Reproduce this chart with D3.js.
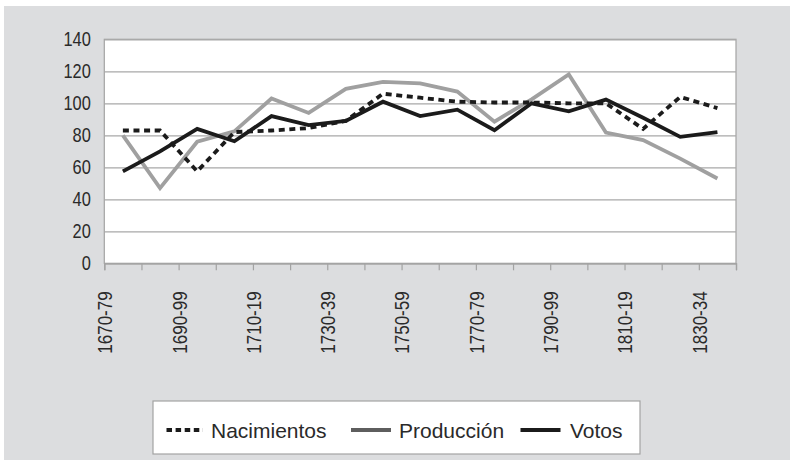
<!DOCTYPE html>
<html>
<head>
<meta charset="utf-8">
<script src="https://cdn.jsdelivr.net/npm/d3@7"></script>
<style>
  html, body { margin: 0; padding: 0; background: #ffffff; }
  svg { display: block; }
  text { font-family: "Liberation Sans", Arial, Helvetica, sans-serif; fill: #2a2a2a; }
</style>
</head>
<body>
<svg id="chart" width="792" height="461"></svg>
<script>
const categories = ["1670-79","1680-89","1690-99","1700-09","1710-19","1720-29","1730-39","1740-49","1750-59","1760-69","1770-79","1780-89","1790-99","1800-09","1810-19","1820-29","1830-34"];
const nacimientos = [83, 83, 57.5, 82, 83, 84.5, 89, 106, 103.5, 101, 100.5, 100.5, 100, 100, 84, 104, 97];
const produccion  = [80, 47, 76, 82.5, 103, 94, 109, 113.4, 112.4, 107.3, 88.5, 102.5, 118, 81.7, 77, 65.4, 53];
const votos       = [57.5, 70, 84, 76.3, 92, 86.4, 89, 101, 92, 96, 83.2, 100, 95, 102.3, 91, 79, 82];
const yTicks = [0, 20, 40, 60, 80, 100, 120, 140];
const seriesNames = ["Nacimientos", "Producción", "Votos"];

const svg = d3.select("#chart");
const W = 792, H = 461;
const plot = { left: 104.3, right: 736, top: 39.3, bottom: 263.3 };

svg.append("rect").attr("x", 0).attr("y", 0).attr("width", W).attr("height", H).attr("fill", "#ffffff");
svg.append("rect").attr("x", 4).attr("y", 6).attr("width", 786).attr("height", 454).attr("fill", "#dcdddf");

const y = d3.scaleLinear().domain([0, 140]).range([plot.bottom, plot.top]);
const xb = d3.scaleBand().domain(categories).range([plot.left, plot.right]).padding(0);
const xi = d3.scaleLinear().domain([0, categories.length]).range([plot.left, plot.right]);
const cx = c => xb(c) + xb.bandwidth() / 2;

// plot area
svg.append("rect")
  .attr("x", plot.left).attr("y", plot.top)
  .attr("width", plot.right - plot.left).attr("height", plot.bottom - plot.top)
  .attr("fill", "#ffffff").attr("stroke", "#a3a3a3").attr("stroke-width", 1.2);

// y axis + gridlines
const yAxis = svg.append("g")
  .attr("transform", `translate(${plot.left},0)`)
  .call(d3.axisLeft(y).tickValues(yTicks).tickSize(-(plot.right - plot.left)).tickPadding(13));
yAxis.select(".domain").remove();
yAxis.selectAll(".tick line").attr("stroke", "#a8a8a8").attr("stroke-width", 1.3);
yAxis.selectAll(".tick text").attr("font-size", 20.5).attr("fill", "#2a2a2a")
  .style("font-family", '"Liberation Sans", Arial, sans-serif')
  .attr("x", 0)
  .attr("transform", "translate(-13.5,0) scale(0.8,1)");

// x axis
const xAxis = svg.append("g")
  .attr("transform", `translate(0,${plot.bottom})`)
  .call(d3.axisBottom(xi).tickValues(d3.range(0, categories.length + 1)).tickSize(7)
    .tickFormat(i => (i % 2 === 0 && i < categories.length) ? categories[i] : ""));
xAxis.select(".domain").attr("stroke", "#a3a3a3").attr("stroke-width", 1.3);
xAxis.selectAll(".tick line").attr("stroke", "#a3a3a3").attr("stroke-width", 1.2);
xAxis.selectAll(".tick text")
  .attr("font-size", 20.5).attr("fill", "#2a2a2a")
  .style("font-family", '"Liberation Sans", Arial, sans-serif')
  .attr("text-anchor", "end")
  .attr("transform", "rotate(-90) translate(-28,0) scale(0.83,1)")
  .attr("x", 0).attr("y", 0).attr("dy", "0.36em");

// lines
const line = d3.line().x((d, i) => cx(categories[i])).y(d => y(d));
const styles = [
  { data: produccion, color: "#a0a0a0", dash: null },
  { data: votos, color: "#1b1b1b", dash: null },
  { data: nacimientos, color: "#1b1b1b", dash: "6,4.6" }
];
styles.forEach(s => {
  svg.append("path").datum(s.data)
    .attr("d", line).attr("fill", "none")
    .attr("stroke", s.color).attr("stroke-width", 3.8)
    .attr("stroke-linejoin", "miter")
    .attr("stroke-dasharray", s.dash);
});

// legend
const lg = svg.append("g");
lg.append("rect").attr("x", 153).attr("y", 401).attr("width", 487).attr("height", 53)
  .attr("fill", "#ffffff").attr("stroke", "#a3a3a3").attr("stroke-width", 1.2);
const legendItems = [
  { name: seriesNames[0], x0: 166.5, x1: 203, tx: 211, color: "#1b1b1b", dash: "5.5,3.6" },
  { name: seriesNames[1], x0: 351, x1: 391, tx: 399, color: "#5e5e5e", dash: null },
  { name: seriesNames[2], x0: 520.5, x1: 560.5, tx: 570, color: "#1b1b1b", dash: null }
];
legendItems.forEach(it => {
  lg.append("line").attr("x1", it.x0).attr("x2", it.x1).attr("y1", 430).attr("y2", 430)
    .attr("stroke", it.color).attr("stroke-width", 3.8).attr("stroke-dasharray", it.dash);
  lg.append("text").attr("x", it.tx).attr("y", 437.5).attr("font-size", 21).text(it.name);
});
</script>
</body>
</html>
